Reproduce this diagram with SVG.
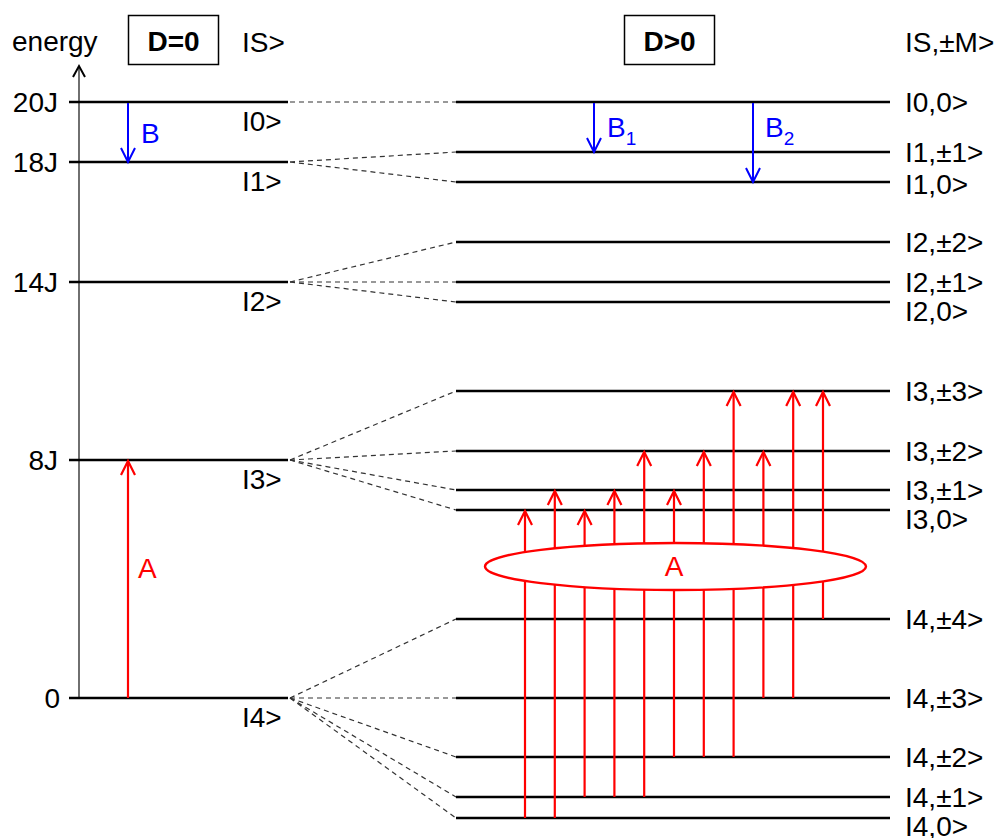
<svg xmlns="http://www.w3.org/2000/svg" width="1005" height="838" viewBox="0 0 1005 838">
  <style>
    text { font-family: "Liberation Sans", Arial, Helvetica, sans-serif; font-size: 28px; fill: #000; }
    .bold { font-weight: bold; }
    .lvl { stroke: #000; stroke-width: 2.5; fill: none; }
    .box { stroke: #000; stroke-width: 1.5; fill: #fff; }
    .axis { stroke: #333; stroke-width: 1.4; fill: none; }
    .split { stroke: #333; stroke-width: 1.2; stroke-dasharray: 5 4; fill: none; }
    .red { stroke: #ff0000; stroke-width: 2.2; fill: none; }
    .blue { stroke: #0000ff; stroke-width: 2; fill: none; }
    .tred { fill: #ff0000; }
    .tblue { fill: #0000ff; }
    .sub { font-size: 19px; }
  </style>
  <defs>
    <marker id="headRed" markerUnits="userSpaceOnUse" markerWidth="20" markerHeight="20" refX="0" refY="0" orient="auto" viewBox="-16 -10 20 20" style="overflow:visible">
      <path d="M -14 -7 L 0 0 L -14 7" fill="none" stroke="#ff0000" stroke-width="2.2"/>
    </marker>
    <marker id="headBlue" markerUnits="userSpaceOnUse" markerWidth="20" markerHeight="20" refX="0" refY="0" orient="auto" viewBox="-16 -10 20 20" style="overflow:visible">
      <path d="M -14 -7 L 0 0 L -14 7" fill="none" stroke="#0000ff" stroke-width="2"/>
    </marker>
    <marker id="headAxis" markerUnits="userSpaceOnUse" markerWidth="20" markerHeight="20" refX="0" refY="0" orient="auto" viewBox="-16 -10 20 20" style="overflow:visible">
      <path d="M -11 -6 L 0 0 L -11 6" fill="none" stroke="#000" stroke-width="2"/>
    </marker>
  </defs>

  <rect width="1005" height="838" fill="#fff"/>

  <!-- energy axis -->
  <g id="axis">
    <line class="axis" x1="79" y1="698" x2="79" y2="66" marker-end="url(#headAxis)"/>
    <text x="12" y="51">energy</text>
    <text x="58" y="112" text-anchor="end">20J</text>
    <text x="58" y="172" text-anchor="end">18J</text>
    <text x="58" y="292" text-anchor="end">14J</text>
    <text x="58" y="470" text-anchor="end">8J</text>
    <text x="60" y="708" text-anchor="end">0</text>
  </g>

  <!-- column headers -->
  <g id="header-D0">
    <rect class="box" x="128.5" y="15.5" width="90" height="49"/>
    <text class="bold" x="173.5" y="51" text-anchor="middle">D=0</text>
    <text x="242" y="52">IS&gt;</text>
  </g>
  <g id="header-Dpos">
    <rect class="box" x="624.5" y="15.5" width="90" height="49"/>
    <text class="bold" x="669.5" y="51" text-anchor="middle">D&gt;0</text>
    <text x="905" y="52">IS,±M&gt;</text>
  </g>

  <!-- D=0 levels -->
  <g id="S0"><line class="lvl" x1="69" y1="102" x2="288" y2="102"/><text x="242" y="131">I0&gt;</text></g>
  <g id="S1"><line class="lvl" x1="69" y1="162" x2="288" y2="162"/><text x="242" y="191">I1&gt;</text></g>
  <g id="S2"><line class="lvl" x1="69" y1="282" x2="288" y2="282"/><text x="242" y="311">I2&gt;</text></g>
  <g id="S3"><line class="lvl" x1="69" y1="460" x2="288" y2="460"/><text x="242" y="489">I3&gt;</text></g>
  <g id="S4"><line class="lvl" x1="69" y1="698" x2="288" y2="698"/><text x="242" y="727">I4&gt;</text></g>

  <!-- D>0 levels -->
  <g id="S0M0"><line class="lvl" x1="456" y1="102" x2="890" y2="102"/><text x="905" y="112">I0,0&gt;</text></g>
  <g id="S1M1"><line class="lvl" x1="456" y1="152" x2="890" y2="152"/><text x="905" y="162">I1,±1&gt;</text></g>
  <g id="S1M0"><line class="lvl" x1="456" y1="182" x2="890" y2="182"/><text x="905" y="194">I1,0&gt;</text></g>
  <g id="S2M2"><line class="lvl" x1="456" y1="242" x2="890" y2="242"/><text x="905" y="252">I2,±2&gt;</text></g>
  <g id="S2M1"><line class="lvl" x1="456" y1="282" x2="890" y2="282"/><text x="905" y="292">I2,±1&gt;</text></g>
  <g id="S2M0"><line class="lvl" x1="456" y1="302" x2="890" y2="302"/><text x="905" y="321">I2,0&gt;</text></g>
  <g id="S3M3"><line class="lvl" x1="456" y1="391" x2="890" y2="391"/><text x="905" y="401">I3,±3&gt;</text></g>
  <g id="S3M2"><line class="lvl" x1="456" y1="451" x2="890" y2="451"/><text x="905" y="461">I3,±2&gt;</text></g>
  <g id="S3M1"><line class="lvl" x1="456" y1="490" x2="890" y2="490"/><text x="905" y="500">I3,±1&gt;</text></g>
  <g id="S3M0"><line class="lvl" x1="456" y1="510" x2="890" y2="510"/><text x="905" y="529">I3,0&gt;</text></g>
  <g id="S4M4"><line class="lvl" x1="456" y1="619" x2="890" y2="619"/><text x="905" y="629">I4,±4&gt;</text></g>
  <g id="S4M3"><line class="lvl" x1="456" y1="698" x2="890" y2="698"/><text x="905" y="708">I4,±3&gt;</text></g>
  <g id="S4M2"><line class="lvl" x1="456" y1="757" x2="890" y2="757"/><text x="905" y="767">I4,±2&gt;</text></g>
  <g id="S4M1"><line class="lvl" x1="456" y1="797" x2="890" y2="797"/><text x="905" y="807">I4,±1&gt;</text></g>
  <g id="S4M0"><line class="lvl" x1="456" y1="818" x2="890" y2="818"/><text x="905" y="836">I4,0&gt;</text></g>

  <!-- connectors: zero-field splitting and transitions -->
  <g id="connectors">
    <g id="splitting">
      <line class="split" x1="290" y1="102" x2="456" y2="102"/>
      <line class="split" x1="290" y1="162" x2="456" y2="152"/>
      <line class="split" x1="290" y1="162" x2="456" y2="182"/>
      <line class="split" x1="290" y1="282" x2="456" y2="242"/>
      <line class="split" x1="290" y1="282" x2="456" y2="282"/>
      <line class="split" x1="290" y1="282" x2="456" y2="302"/>
      <line class="split" x1="290" y1="460" x2="456" y2="391"/>
      <line class="split" x1="290" y1="460" x2="456" y2="451"/>
      <line class="split" x1="290" y1="460" x2="456" y2="490"/>
      <line class="split" x1="290" y1="460" x2="456" y2="510"/>
      <line class="split" x1="290" y1="698" x2="456" y2="619"/>
      <line class="split" x1="290" y1="698" x2="456" y2="698"/>
      <line class="split" x1="290" y1="698" x2="456" y2="757"/>
      <line class="split" x1="290" y1="698" x2="456" y2="797"/>
      <line class="split" x1="290" y1="698" x2="456" y2="818"/>
    </g>
    <g id="transitions-B">
      <line class="blue" x1="128" y1="103" x2="128" y2="162" marker-end="url(#headBlue)"/>
      <text class="tblue" x="141" y="143">B</text>
      <line class="blue" x1="594" y1="103" x2="594" y2="152" marker-end="url(#headBlue)"/>
      <text class="tblue" x="607" y="137">B<tspan class="sub" dy="8">1</tspan></text>
      <line class="blue" x1="753" y1="103" x2="753" y2="182" marker-end="url(#headBlue)"/>
      <text class="tblue" x="765" y="137">B<tspan class="sub" dy="8">2</tspan></text>
    </g>
    <g id="transitions-A">
      <line class="red" x1="128" y1="698" x2="128" y2="461" marker-end="url(#headRed)"/>
      <text class="tred" x="138" y="578">A</text>
      <line class="red" x1="525" y1="818" x2="525" y2="511" marker-end="url(#headRed)"/>
      <line class="red" x1="554.8" y1="818" x2="554.8" y2="491" marker-end="url(#headRed)"/>
      <line class="red" x1="584.6" y1="797" x2="584.6" y2="511" marker-end="url(#headRed)"/>
      <line class="red" x1="614.4" y1="797" x2="614.4" y2="491" marker-end="url(#headRed)"/>
      <line class="red" x1="644.2" y1="797" x2="644.2" y2="452" marker-end="url(#headRed)"/>
      <line class="red" x1="674" y1="757" x2="674" y2="491" marker-end="url(#headRed)"/>
      <line class="red" x1="703.8" y1="757" x2="703.8" y2="452" marker-end="url(#headRed)"/>
      <line class="red" x1="733.6" y1="757" x2="733.6" y2="392" marker-end="url(#headRed)"/>
      <line class="red" x1="763.4" y1="698" x2="763.4" y2="452" marker-end="url(#headRed)"/>
      <line class="red" x1="793.2" y1="698" x2="793.2" y2="392" marker-end="url(#headRed)"/>
      <line class="red" x1="823" y1="619" x2="823" y2="392" marker-end="url(#headRed)"/>
    </g>
  </g>

  <!-- label band over the split-level A transitions -->
  <g id="A-band">
    <ellipse cx="675.5" cy="566.5" rx="190.5" ry="23.5" fill="#fff" stroke="#ff0000" stroke-width="2.4"/>
    <text class="tred" x="674" y="576" text-anchor="middle">A</text>
  </g>
</svg>
